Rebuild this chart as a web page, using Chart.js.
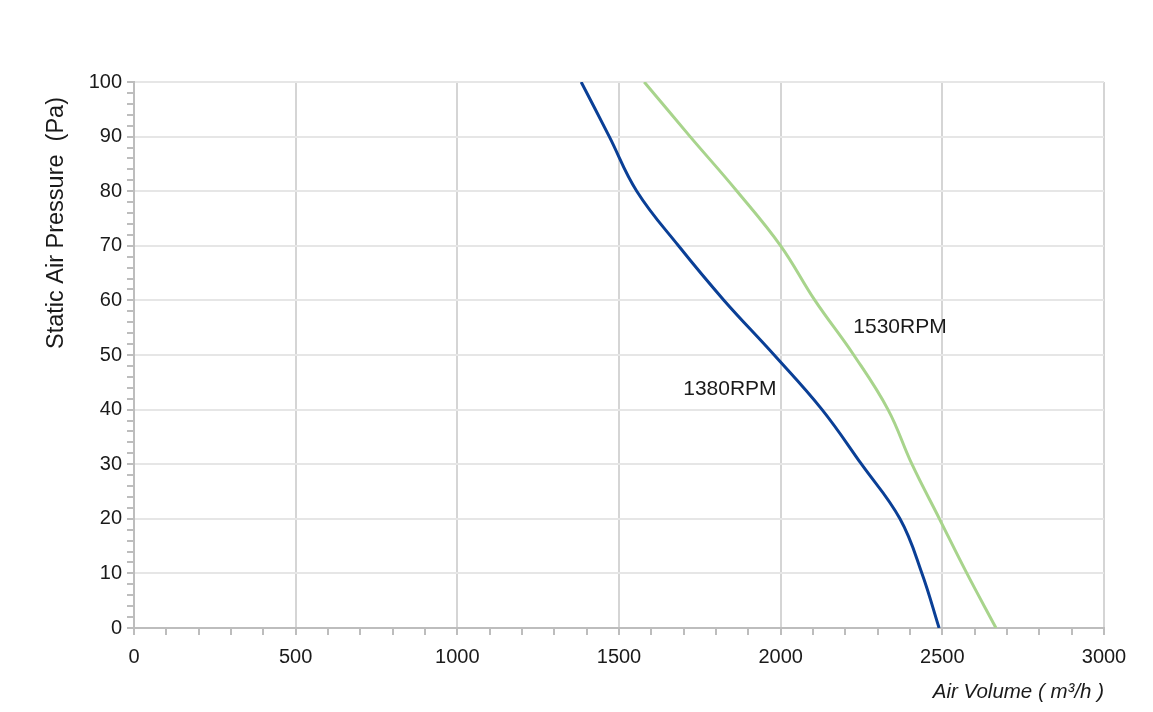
<!DOCTYPE html>
<html>
<head>
<meta charset="utf-8">
<title>Static Air Pressure vs Air Volume</title>
<script src="https://cdn.jsdelivr.net/npm/chart.js@4/dist/chart.umd.min.js"></script>
<style>
  html, body { margin: 0; padding: 0; background: #ffffff; }
  #wrap { width: 1153px; height: 712px; }
</style>
</head>
<body>
<div id="wrap"><canvas id="fanChart" width="1153" height="712"></canvas></div>
<script>
// curve data (air volume m3/h, static pressure Pa)
const volume1380 = [1383, 1470, 1555, 1684, 1825, 1980, 2128, 2250, 2369, 2437, 2490];
const pressure1380 = [100, 90, 80, 70, 60, 50, 40, 30, 20, 10, 0];
const volume1530 = [1578, 1720, 1865, 2000, 2106, 2226, 2332, 2406, 2491, 2576, 2666];
const pressure1530 = [100, 90, 80, 70, 60, 50, 40, 30, 20, 10, 0];

const seriesNames = ["1380RPM", "1530RPM"];
// where the curve names sit, in data units
const nameVolume = [1843, 2369];
const namePressure = [43.8, 55];

const xTickLabels = ["0", "500", "1000", "1500", "2000", "2500", "3000"];
const yTickLabels = ["0", "10", "20", "30", "40", "50", "60", "70", "80", "90", "100"];

const toPoints = (xs, ys) => xs.map((x, i) => ({ x: x, y: ys[i] }));

const FONT = "'Liberation Sans', Arial, Helvetica, sans-serif";

// curve names + y axis title
const notesPlugin = {
  id: "notes",
  afterDatasetsDraw(chart) {
    const ctx = chart.ctx;
    const xs = chart.scales.x;
    const ys = chart.scales.y;
    ctx.save();
    ctx.fillStyle = "#1a1a1a";
    ctx.font = "21px " + FONT;
    ctx.textAlign = "center";
    ctx.textBaseline = "middle";
    seriesNames.forEach((name, i) => {
      ctx.fillText(name, xs.getPixelForValue(nameVolume[i]), ys.getPixelForValue(namePressure[i]));
    });

    ctx.translate(57, 223);
    ctx.rotate(-Math.PI / 2);
    ctx.font = "23.5px " + FONT;
    ctx.fillText("Static Air Pressure  (Pa)", 0, 0);
    ctx.restore();
  }
};

const ctx = document.getElementById("fanChart");

new Chart(ctx, {
  type: "line",
  data: {
    datasets: [
      {
        label: seriesNames[0],
        data: toPoints(volume1380, pressure1380),
        borderColor: "#0a3f96",
        borderWidth: 3,
        pointRadius: 0,
        fill: false,
        tension: 0.4
      },
      {
        label: seriesNames[1],
        data: toPoints(volume1530, pressure1530),
        borderColor: "#a8d48c",
        borderWidth: 3,
        pointRadius: 0,
        fill: false,
        tension: 0.4
      }
    ]
  },
  options: {
    responsive: false,
    animation: false,
    layout: {
      padding: { top: 82, right: 49, left: 0, bottom: 0 }
    },
    plugins: {
      legend: { display: false },
      tooltip: { enabled: false }
    },
    scales: {
      x: {
        type: "linear",
        min: 0,
        max: 3000,
        afterFit: (scale) => { scale.height = 84; },
        ticks: {
          stepSize: 100,
          autoSkip: false,
          maxTicksLimit: 100,
          maxRotation: 0,
          padding: 10,
          color: "#1a1a1a",
          font: { family: FONT, size: 20 },
          callback: (v) => (v % 500 === 0 ? xTickLabels[v / 500] : "")
        },
        grid: {
          color: (c) => (c.tick && c.tick.value % 500 === 0 ? "#d5d5d5" : "rgba(0,0,0,0)"),
          tickColor: "#bdbdbd",
          tickLength: 7,
          lineWidth: 2
        },
        border: { color: "#bdbdbd", width: 2 },
        title: {
          display: true,
          text: "Air Volume ( m³/h )",
          align: "end",
          color: "#1a1a1a",
          font: { family: FONT, size: 20.5, style: "italic" },
          padding: { top: 0, bottom: 7 }
        }
      },
      y: {
        type: "linear",
        min: 0,
        max: 100,
        afterFit: (scale) => { scale.width = 134; },
        ticks: {
          stepSize: 2,
          autoSkip: false,
          maxTicksLimit: 100,
          padding: 5,
          color: "#1a1a1a",
          font: { family: FONT, size: 20 },
          callback: (v) => (v % 10 === 0 ? yTickLabels[v / 10] : "")
        },
        grid: {
          color: (c) => (c.tick && c.tick.value % 10 === 0 ? "#e6e6e6" : "rgba(0,0,0,0)"),
          tickColor: "#bdbdbd",
          tickLength: 7,
          lineWidth: 2
        },
        border: { color: "#bdbdbd", width: 2 }
      }
    }
  },
  plugins: [notesPlugin]
});
</script>
</body>
</html>
